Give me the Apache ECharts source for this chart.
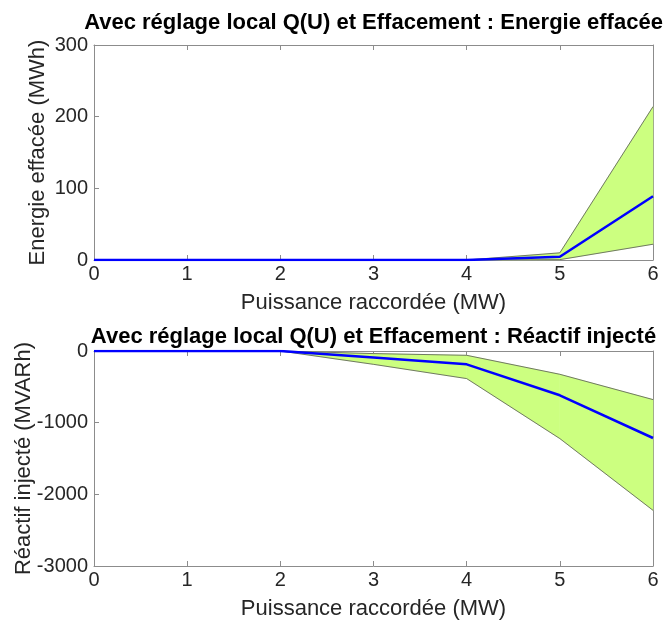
<!DOCTYPE html>
<html>
<head>
<meta charset="utf-8">
<script src="https://cdn.jsdelivr.net/npm/echarts@6/dist/echarts.min.js"></script>
<style>
html,body{margin:0;padding:0;background:#fff;}
#c{width:672px;height:620px;}
</style>
</head>
<body>
<div id="c"></div>
<script>
// Data
const puissance = [0, 1, 2, 3, 4, 5, 6];
const xTicks = [0, 1, 2, 3, 4, 5, 6];
const energieMoy = [0, 0, 0, 0, 0, 4.6, 89];
const energieMin = [0, 0, 0, 0, 0, 0.5, 22];
const energieMax = [0, 0, 0, 0, 0, 10, 214];
const energieTicks = [0, 100, 200, 300];
const reactifMoy = [0, 0, 0, -92, -186, -618, -1214];
const reactifMin = [0, 0, 0, -186, -385, -1222, -2223];
const reactifMax = [0, 0, 0, -36, -60, -325, -678];
const reactifTicks = [-3000, -2000, -1000, 0];

const titre1 = 'Avec réglage local Q(U) et Effacement : Energie effacée';
const titre2 = 'Avec réglage local Q(U) et Effacement : Réactif injecté';
const xNom = 'Puissance raccordée (MW)';
const yNom1 = 'Energie effacée (MWh)';
const yNom2 = 'Réactif injecté (MVARh)';

const FONT = 'Liberation Sans, Arial, Helvetica, sans-serif';
const AX = '#8c8c8c';
const TXT = '#262626';
const FILL = '#ccff80';

function pairs(ys) { return puissance.map((x, i) => [x, ys[i]]); }
// one quad per interval: [x0, x1, lo0, hi0, lo1, hi1]
function segments(lo, hi) {
  const out = [];
  for (let i = 0; i < puissance.length - 1; i++) {
    out.push([puissance[i], puissance[i + 1], lo[i], hi[i], lo[i + 1], hi[i + 1]]);
  }
  return out;
}

const chart = echarts.init(document.getElementById('c'), null, {renderer: 'canvas'});

function xAxes(grid, title, titleGap) {
  return [
    {
      type: 'value', gridIndex: grid, position: 'bottom', min: xTicks[0], max: xTicks[xTicks.length - 1], interval: 1,
      axisLine: {show: true, onZero: false, lineStyle: {color: AX, width: 1}},
      axisTick: {show: true, inside: true, length: 5, lineStyle: {color: AX}},
      axisLabel: {color: TXT, fontFamily: FONT, fontSize: 20, margin: 4},
      splitLine: {show: false},
      name: xNom, nameLocation: 'middle', nameGap: 32, nameMoveOverlap: false,
      nameTextStyle: {color: TXT, fontFamily: FONT, fontSize: 22}
    },
    {
      type: 'value', gridIndex: grid, position: 'top', min: xTicks[0], max: xTicks[xTicks.length - 1], interval: 1,
      axisLine: {show: true, onZero: false, lineStyle: {color: AX, width: 1}},
      axisTick: {show: true, inside: true, length: 5, lineStyle: {color: AX}},
      axisLabel: {show: false},
      splitLine: {show: false},
      name: title, nameLocation: 'middle', nameGap: titleGap, nameMoveOverlap: false,
      nameTextStyle: {color: '#000', fontFamily: FONT, fontSize: 22, fontWeight: 'bold'}
    }
  ];
}

function yAxes(grid, ticks, name, gap) {
  const mn = ticks[0], mx = ticks[ticks.length - 1], it = ticks[1] - ticks[0];
  return [
    {
      type: 'value', gridIndex: grid, position: 'left', min: mn, max: mx, interval: it,
      axisLine: {show: true, onZero: false, lineStyle: {color: AX, width: 1}},
      axisTick: {show: true, inside: true, length: 5, lineStyle: {color: AX}},
      axisLabel: {color: TXT, fontFamily: FONT, fontSize: 20, margin: 6, formatter: v => String(v)},
      splitLine: {show: false},
      name: name, nameLocation: 'middle', nameGap: gap, nameMoveOverlap: false,
      nameTextStyle: {color: TXT, fontFamily: FONT, fontSize: 22}
    },
    {
      type: 'value', gridIndex: grid, position: 'right', min: mn, max: mx, interval: it,
      axisLine: {show: true, onZero: false, lineStyle: {color: AX, width: 1}},
      axisTick: {show: true, inside: true, length: 5, lineStyle: {color: AX}},
      axisLabel: {show: false},
      splitLine: {show: false}
    }
  ];
}

const edge = {color: '#555555', width: 0.8};

function band(ai, lo, hi) {
  return [
    {
      type: 'custom', xAxisIndex: ai, yAxisIndex: ai, data: segments(lo, hi), silent: true, z: 1,
      renderItem: function (params, api) {
        const p1 = api.coord([api.value(0), api.value(3)]);
        const p2 = api.coord([api.value(1), api.value(5)]);
        const p3 = api.coord([api.value(1), api.value(4)]);
        const p4 = api.coord([api.value(0), api.value(2)]);
        return {
          type: 'polygon',
          shape: {points: [p1, p2, p3, p4]},
          style: {fill: FILL, stroke: FILL, lineWidth: 0.6}
        };
      }
    },
    {type: 'line', xAxisIndex: ai, yAxisIndex: ai, data: pairs(lo), symbol: 'none', lineStyle: edge, silent: true, z: 3},
    {type: 'line', xAxisIndex: ai, yAxisIndex: ai, data: pairs(hi), symbol: 'none', lineStyle: edge, silent: true, z: 3}
  ];
}

const option = {
  animation: false,
  backgroundColor: '#ffffff',
  grid: [
    {left: 94, top: 45, width: 559, height: 215, containLabel: false, outerBoundsMode: 'none'},
    {left: 94, top: 351, width: 559, height: 215, containLabel: false, outerBoundsMode: 'none'}
  ],
  xAxis: [...xAxes(0, titre1, 11), ...xAxes(1, titre2, 3)],
  yAxis: [...yAxes(0, energieTicks, yNom1, 45), ...yAxes(1, reactifTicks, yNom2, 59)],
  series: [
    ...band(0, energieMin, energieMax),
    {type: 'line', xAxisIndex: 0, yAxisIndex: 0, data: pairs(energieMoy), symbol: 'none',
     lineStyle: {color: '#0000ff', width: 2.5}, z: 5},
    ...band(2, reactifMin, reactifMax),
    {type: 'line', xAxisIndex: 2, yAxisIndex: 2, data: pairs(reactifMoy), symbol: 'none',
     lineStyle: {color: '#0000ff', width: 2.5}, z: 5}
  ]
};
chart.setOption(option);
</script>
</body>
</html>
